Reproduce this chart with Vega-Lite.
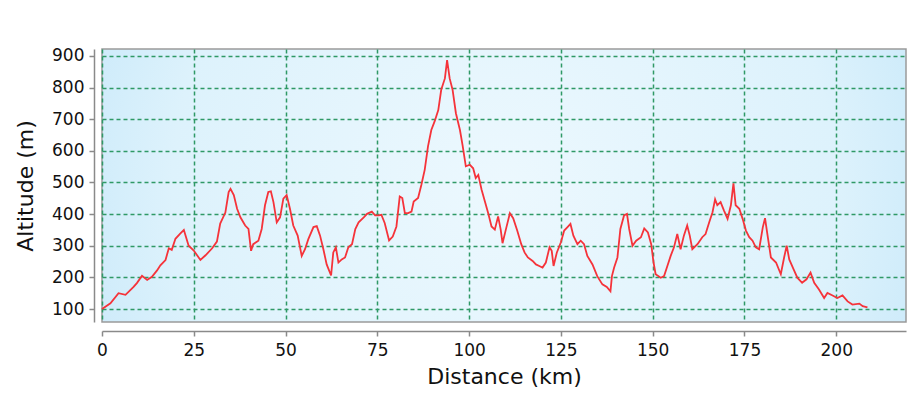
{
  "$schema": "https://vega.github.io/schema/vega-lite/v6.json",
  "width": 804,
  "height": 273,
  "autosize": "none",
  "padding": {"left": 102, "top": 49, "right": 14, "bottom": 78},
  "background": "#ffffff",
  "view": {
    "fill": {"gradient": "radial", "x1": 0.5, "y1": 0.5, "r1": 0, "x2": 0.5, "y2": 0.5, "r2": 0.75,
      "stops": [{"offset": 0, "color": "#ecf8fe"}, {"offset": 0.55, "color": "#ddf2fc"}, {"offset": 1, "color": "#b3dff7"}]},
    "stroke": "#9a9a9a",
    "strokeWidth": 1.5
  },
  "config": {
    "font": "DejaVu Sans",
    "axis": {
      "domainColor": "#8a8a8a",
      "domainWidth": 1.5,
      "tickColor": "#8a8a8a",
      "tickWidth": 1.5,
      "tickSize": 5,
      "labelFontSize": 17,
      "labelColor": "#111111",
      "labelFlush": false,
      "titleFontSize": 22,
      "titleFontWeight": "normal",
      "titleColor": "#111111",
      "gridColor": "#2f9966",
      "gridDash": [4, 3],
      "gridWidth": 1.5,
      "gridOpacity": 1
    }
  },
  "data": {
    "values": [
      {"d": 0, "alt": 100}, {"d": 2.3, "alt": 118}, {"d": 4.5, "alt": 150}, {"d": 6.4, "alt": 145},
      {"d": 8.6, "alt": 170}, {"d": 9.5, "alt": 182}, {"d": 10.9, "alt": 205}, {"d": 12.3, "alt": 192},
      {"d": 13.6, "alt": 202}, {"d": 15, "alt": 222}, {"d": 15.9, "alt": 238}, {"d": 17.3, "alt": 255},
      {"d": 18.2, "alt": 292}, {"d": 19, "alt": 287}, {"d": 20, "alt": 322}, {"d": 21.3, "alt": 338},
      {"d": 22.3, "alt": 350}, {"d": 23.6, "alt": 300}, {"d": 25, "alt": 285}, {"d": 26.8, "alt": 255},
      {"d": 28.2, "alt": 270}, {"d": 30, "alt": 292}, {"d": 31.3, "alt": 313}, {"d": 32.2, "alt": 370},
      {"d": 33.6, "alt": 405}, {"d": 34.5, "alt": 470}, {"d": 35, "alt": 480}, {"d": 35.9, "alt": 460},
      {"d": 36.8, "alt": 417}, {"d": 37.7, "alt": 390}, {"d": 39, "alt": 364}, {"d": 39.9, "alt": 353},
      {"d": 40.6, "alt": 284}, {"d": 41.2, "alt": 305}, {"d": 42.6, "alt": 316}, {"d": 43.5, "alt": 353},
      {"d": 44.4, "alt": 428}, {"d": 45.3, "alt": 470}, {"d": 46, "alt": 472}, {"d": 46.7, "alt": 438},
      {"d": 47.6, "alt": 374}, {"d": 48.5, "alt": 390}, {"d": 49.4, "alt": 449}, {"d": 50.3, "alt": 460},
      {"d": 51.2, "alt": 417}, {"d": 52.1, "alt": 364}, {"d": 53.3, "alt": 332}, {"d": 54.4, "alt": 268},
      {"d": 55.3, "alt": 289}, {"d": 56.2, "alt": 321}, {"d": 57.6, "alt": 359}, {"d": 58.5, "alt": 362},
      {"d": 59.4, "alt": 332}, {"d": 60.3, "alt": 289}, {"d": 61.2, "alt": 241}, {"d": 62.4, "alt": 206},
      {"d": 63, "alt": 279}, {"d": 63.7, "alt": 295}, {"d": 64.4, "alt": 247}, {"d": 65.3, "alt": 257},
      {"d": 66.2, "alt": 263}, {"d": 67.1, "alt": 295}, {"d": 68.1, "alt": 305}, {"d": 69, "alt": 353},
      {"d": 69.9, "alt": 374}, {"d": 71.3, "alt": 390}, {"d": 72.2, "alt": 401}, {"d": 73.5, "alt": 408},
      {"d": 74.4, "alt": 396}, {"d": 75.4, "alt": 396}, {"d": 76.1, "alt": 398}, {"d": 77, "alt": 372},
      {"d": 78.2, "alt": 317}, {"d": 79.2, "alt": 329}, {"d": 80.2, "alt": 361}, {"d": 81.1, "alt": 456},
      {"d": 81.8, "alt": 451}, {"d": 82.5, "alt": 403}, {"d": 83.4, "alt": 403}, {"d": 84.3, "alt": 408},
      {"d": 84.9, "alt": 440}, {"d": 86.1, "alt": 451}, {"d": 87, "alt": 493}, {"d": 87.9, "alt": 540},
      {"d": 88.8, "alt": 614}, {"d": 89.7, "alt": 666}, {"d": 90.6, "alt": 693}, {"d": 91.6, "alt": 729},
      {"d": 92.4, "alt": 793}, {"d": 93.4, "alt": 829}, {"d": 94, "alt": 887}, {"d": 94.7, "alt": 829},
      {"d": 95.5, "alt": 793}, {"d": 96.4, "alt": 719}, {"d": 97.5, "alt": 666}, {"d": 98.2, "alt": 619},
      {"d": 99.1, "alt": 551}, {"d": 100.2, "alt": 556}, {"d": 101.1, "alt": 545}, {"d": 101.8, "alt": 514},
      {"d": 102.5, "alt": 524}, {"d": 103.4, "alt": 477}, {"d": 104.3, "alt": 440}, {"d": 105.2, "alt": 403},
      {"d": 106.1, "alt": 361}, {"d": 107, "alt": 351}, {"d": 107.9, "alt": 393}, {"d": 108.6, "alt": 351},
      {"d": 109.1, "alt": 308}, {"d": 110, "alt": 351}, {"d": 111.1, "alt": 403}, {"d": 112, "alt": 387},
      {"d": 113.1, "alt": 348}, {"d": 114.2, "alt": 305}, {"d": 115.1, "alt": 279}, {"d": 116, "alt": 263},
      {"d": 117.3, "alt": 252}, {"d": 118.2, "alt": 241}, {"d": 119.1, "alt": 236}, {"d": 120, "alt": 231},
      {"d": 120.9, "alt": 247}, {"d": 121.9, "alt": 295}, {"d": 122.5, "alt": 284}, {"d": 123, "alt": 236},
      {"d": 123.9, "alt": 279}, {"d": 125, "alt": 311}, {"d": 125.9, "alt": 348}, {"d": 126.8, "alt": 359},
      {"d": 127.6, "alt": 369}, {"d": 128.4, "alt": 332}, {"d": 129.5, "alt": 305}, {"d": 130.4, "alt": 316},
      {"d": 131.3, "alt": 305}, {"d": 132.2, "alt": 268}, {"d": 133.6, "alt": 241}, {"d": 134.9, "alt": 204},
      {"d": 136.3, "alt": 178}, {"d": 137.5, "alt": 170}, {"d": 138.5, "alt": 156}, {"d": 138.9, "alt": 204},
      {"d": 139.5, "alt": 231}, {"d": 140.4, "alt": 263}, {"d": 141.2, "alt": 353}, {"d": 142.2, "alt": 396},
      {"d": 143, "alt": 401}, {"d": 143.6, "alt": 353}, {"d": 144.5, "alt": 300}, {"d": 145.5, "alt": 316},
      {"d": 146.8, "alt": 327}, {"d": 147.7, "alt": 355}, {"d": 148.7, "alt": 342}, {"d": 149.6, "alt": 305},
      {"d": 150.2, "alt": 250}, {"d": 150.8, "alt": 210}, {"d": 152.2, "alt": 199}, {"d": 153.1, "alt": 204},
      {"d": 154, "alt": 236}, {"d": 154.9, "alt": 268}, {"d": 155.8, "alt": 295}, {"d": 156.7, "alt": 337},
      {"d": 157.6, "alt": 289}, {"d": 158.5, "alt": 332}, {"d": 159.4, "alt": 364}, {"d": 160.1, "alt": 332},
      {"d": 160.8, "alt": 289}, {"d": 162.2, "alt": 305}, {"d": 163.5, "alt": 327}, {"d": 164.4, "alt": 337},
      {"d": 165.4, "alt": 374}, {"d": 166.3, "alt": 406}, {"d": 167, "alt": 447}, {"d": 167.6, "alt": 428},
      {"d": 168.5, "alt": 438}, {"d": 169.4, "alt": 412}, {"d": 170.4, "alt": 385}, {"d": 171.3, "alt": 428},
      {"d": 172, "alt": 497}, {"d": 172.6, "alt": 428}, {"d": 173.6, "alt": 417}, {"d": 174.5, "alt": 385},
      {"d": 175.4, "alt": 348}, {"d": 176.3, "alt": 327}, {"d": 177.2, "alt": 316}, {"d": 178.1, "alt": 295},
      {"d": 179, "alt": 289}, {"d": 180, "alt": 359}, {"d": 180.6, "alt": 387}, {"d": 181.3, "alt": 332},
      {"d": 182.2, "alt": 263}, {"d": 183.6, "alt": 247}, {"d": 184.9, "alt": 210}, {"d": 185.8, "alt": 263},
      {"d": 186.5, "alt": 300}, {"d": 187.2, "alt": 257}, {"d": 188.3, "alt": 228}, {"d": 189.4, "alt": 199},
      {"d": 190.7, "alt": 183}, {"d": 191.9, "alt": 194}, {"d": 193, "alt": 215}, {"d": 194, "alt": 183},
      {"d": 195.3, "alt": 162}, {"d": 196.7, "alt": 135}, {"d": 197.6, "alt": 151}, {"d": 199, "alt": 143},
      {"d": 200.3, "alt": 135}, {"d": 201.7, "alt": 143}, {"d": 203.1, "alt": 124}, {"d": 204.4, "alt": 114},
      {"d": 206.3, "alt": 117}, {"d": 207.2, "alt": 109}, {"d": 208.5, "alt": 105}
    ]
  },
  "mark": {"type": "line", "color": "#f5333a", "strokeWidth": 1.8, "interpolate": "linear"},
  "encoding": {
    "x": {
      "field": "d", "type": "quantitative", "title": "Distance (km)",
      "scale": {"domain": [0, 219], "nice": false, "zero": false},
      "axis": {"values": [0, 25, 50, 75, 100, 125, 150, 175, 200], "offset": 9, "labelPadding": 6, "titlePadding": 8}
    },
    "y": {
      "field": "alt", "type": "quantitative", "title": "Altitude (m)",
      "scale": {"domain": [59, 922], "nice": false, "zero": false},
      "axis": {"values": [100, 200, 300, 400, 500, 600, 700, 800, 900], "offset": 8, "labelPadding": 5, "titlePadding": 14}
    }
  }
}
